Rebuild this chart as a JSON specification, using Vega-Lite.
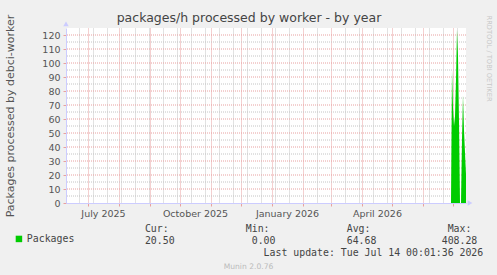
{
  "$schema": "https://vega.github.io/schema/vega-lite/v6.json",
  "width": 400,
  "height": 175,
  "autosize": {"type": "none"},
  "padding": {"left": 66, "top": 28, "right": 31, "bottom": 72},
  "background": "#f0f0f0",
  "config": {"view": {"fill": "#ffffff", "stroke": null}, "font": "DejaVu Sans"},
  "title": {"text": "packages/h processed by worker - by year", "font": "DejaVu Sans", "fontSize": 12.5, "fontWeight": "normal", "color": "#444444", "anchor": "middle", "frame": "group", "dx": -17, "offset": 0, "dy": 10},
  "layer": [
    {
      "data": {"values": [
        {"level": 5}, {"level": 10}, {"level": 15}, {"level": 20}, {"level": 25}, {"level": 30},
        {"level": 35}, {"level": 40}, {"level": 45}, {"level": 50}, {"level": 55}, {"level": 60},
        {"level": 65}, {"level": 70}, {"level": 75}, {"level": 80}, {"level": 85}, {"level": 90},
        {"level": 95}, {"level": 100}, {"level": 105}, {"level": 110}, {"level": 115}, {"level": 120}
      ]},
      "mark": {"type": "rule", "strokeDash": [1, 1], "strokeWidth": 1},
      "encoding": {
        "y": {"field": "level", "type": "quantitative", "axis": null},
        "color": {"condition": {"test": "datum.level % 10 === 0", "value": "#e8a0a0"}, "value": "#c4c4c4"}
      }
    },
    {
      "data": {"values": [
        {"date": "2026-06-29", "packages": 0},
        {"date": "2026-06-30", "packages": 95},
        {"date": "2026-07-01", "packages": 68},
        {"date": "2026-07-02", "packages": 55},
        {"date": "2026-07-03", "packages": 62},
        {"date": "2026-07-04", "packages": 88},
        {"date": "2026-07-05", "packages": 124},
        {"date": "2026-07-06", "packages": 105},
        {"date": "2026-07-07", "packages": 58},
        {"date": "2026-07-08", "packages": 0},
        {"date": "2026-07-09", "packages": 0},
        {"date": "2026-07-10", "packages": 46},
        {"date": "2026-07-11", "packages": 77},
        {"date": "2026-07-12", "packages": 52},
        {"date": "2026-07-13", "packages": 36},
        {"date": "2026-07-14", "packages": 20.5}
      ]},
      "mark": {"type": "area", "clip": true, "interpolate": "linear"},
      "encoding": {
        "x": {
          "field": "date", "type": "temporal",
          "scale": {"type": "utc", "domain": [{"year": 2025, "month": 6, "date": 9, "utc": true}, {"year": 2026, "month": 7, "date": 14, "utc": true}]},
          "axis": {
            "orient": "bottom",
            "values": [
              {"year": 2025, "month": 7, "date": 1, "utc": true},
              {"year": 2025, "month": 8, "date": 1, "utc": true},
              {"year": 2025, "month": 9, "date": 1, "utc": true},
              {"year": 2025, "month": 10, "date": 1, "utc": true},
              {"year": 2025, "month": 11, "date": 1, "utc": true},
              {"year": 2025, "month": 12, "date": 1, "utc": true},
              {"year": 2026, "month": 1, "date": 1, "utc": true},
              {"year": 2026, "month": 2, "date": 1, "utc": true},
              {"year": 2026, "month": 3, "date": 1, "utc": true},
              {"year": 2026, "month": 4, "date": 1, "utc": true},
              {"year": 2026, "month": 5, "date": 1, "utc": true},
              {"year": 2026, "month": 6, "date": 1, "utc": true},
              {"year": 2026, "month": 7, "date": 1, "utc": true},
              {"year": 2025, "month": 7, "date": 16, "utc": true},
              {"year": 2025, "month": 10, "date": 16, "utc": true},
              {"year": 2026, "month": 1, "date": 16, "utc": true},
              {"year": 2026, "month": 4, "date": 16, "utc": true},
              {"year": 2025, "month": 6, "date": 22, "utc": true},
              {"year": 2025, "month": 7, "date": 6, "utc": true},
              {"year": 2025, "month": 7, "date": 20, "utc": true},
              {"year": 2025, "month": 8, "date": 3, "utc": true},
              {"year": 2025, "month": 8, "date": 17, "utc": true},
              {"year": 2025, "month": 8, "date": 31, "utc": true},
              {"year": 2025, "month": 9, "date": 14, "utc": true},
              {"year": 2025, "month": 9, "date": 28, "utc": true},
              {"year": 2025, "month": 10, "date": 12, "utc": true},
              {"year": 2025, "month": 10, "date": 26, "utc": true},
              {"year": 2025, "month": 11, "date": 9, "utc": true},
              {"year": 2025, "month": 11, "date": 23, "utc": true},
              {"year": 2025, "month": 12, "date": 7, "utc": true},
              {"year": 2025, "month": 12, "date": 21, "utc": true},
              {"year": 2026, "month": 1, "date": 4, "utc": true},
              {"year": 2026, "month": 1, "date": 18, "utc": true},
              {"year": 2026, "month": 2, "date": 15, "utc": true},
              {"year": 2026, "month": 3, "date": 15, "utc": true},
              {"year": 2026, "month": 3, "date": 29, "utc": true},
              {"year": 2026, "month": 4, "date": 12, "utc": true},
              {"year": 2026, "month": 4, "date": 26, "utc": true},
              {"year": 2026, "month": 5, "date": 10, "utc": true},
              {"year": 2026, "month": 5, "date": 24, "utc": true},
              {"year": 2026, "month": 6, "date": 7, "utc": true},
              {"year": 2026, "month": 6, "date": 21, "utc": true},
              {"year": 2026, "month": 7, "date": 5, "utc": true}
            ],
            "labelExpr": "utcdate(datum.value) === 16 ? utcFormat(datum.value, '%B %Y') : ''",
            "labelOverlap": false,
            "labelBound": false,
            "labelFlush": false,
            "labelFont": "DejaVu Sans",
            "labelFontSize": 9.5,
            "labelColor": "#555555",
            "labelPadding": 2,
            "grid": true,
            "gridColor": {"condition": {"test": "utcdate(datum.value) === 1", "value": "#e8a0a0"}, "value": "#c4c4c4"},
            "gridOpacity": {"condition": {"test": "utcdate(datum.value) === 16", "value": 0}, "value": 1},
            "gridDash": [1, 1],
            "ticks": true,
            "tickSize": 3,
            "tickColor": "#e8a0a0",
            "tickOpacity": {"condition": {"test": "utcdate(datum.value) === 1", "value": 1}, "value": 0},
            "domainColor": "#ccccff",
            "title": [
              "Cur:\u00a0\u00a0\u00a0\u00a0\u00a0\u00a0\u00a0\u00a0\u00a0\u00a0\u00a0\u00a0\u00a0Min:\u00a0\u00a0\u00a0\u00a0\u00a0\u00a0\u00a0\u00a0\u00a0\u00a0\u00a0\u00a0\u00a0Avg:\u00a0\u00a0\u00a0\u00a0\u00a0\u00a0\u00a0\u00a0\u00a0\u00a0\u00a0\u00a0\u00a0Max:",
              "20.50\u00a0\u00a0\u00a0\u00a0\u00a0\u00a0\u00a0\u00a0\u00a0\u00a0\u00a0\u00a0\u00a00.00\u00a0\u00a0\u00a0\u00a0\u00a0\u00a0\u00a0\u00a0\u00a0\u00a0\u00a0\u00a064.68\u00a0\u00a0\u00a0\u00a0\u00a0\u00a0\u00a0\u00a0\u00a0\u00a0\u00a0408.28",
              "\u200b\u00a0\u00a0\u00a0\u00a0\u00a0\u00a0\u00a0\u00a0\u00a0\u00a0\u00a0\u00a0\u00a0\u00a0\u00a0\u00a0\u00a0\u00a0\u00a0\u00a0Last update: Tue Jul 14 00:01:36 2026"
            ],
            "titleFont": "DejaVu Sans Mono",
            "titleFontSize": 9.87,
            "titleFontWeight": "normal",
            "titleColor": "#444444",
            "titleAlign": "left",
            "titleBaseline": "alphabetic",
            "titleX": 78.4,
            "titleY": 28,
            "titleLineHeight": 12
          }
        },
        "y": {
          "field": "packages", "type": "quantitative",
          "scale": {"domain": [0, 125], "nice": false, "zero": true},
          "axis": {
            "orient": "left",
            "values": [0, 10, 20, 30, 40, 50, 60, 70, 80, 90, 100, 110, 120],
            "labelFont": "DejaVu Sans",
            "labelFontSize": 9.5,
            "labelColor": "#555555",
            "labelPadding": 3,
            "grid": false,
            "tickSize": 3,
            "tickColor": "#e8a0a0",
            "domainColor": "#ccccff",
            "title": "Packages processed by debci-worker",
            "titleFont": "DejaVu Sans",
            "titleFontSize": 11,
            "titleFontWeight": "normal",
            "titleColor": "#555555",
            "titlePadding": 26
          }
        },
        "color": {
          "datum": "Packages", "type": "nominal",
          "scale": {"range": ["#00cc00"]},
          "legend": {
            "orient": "none", "legendX": -52, "legendY": 206, "title": null,
            "symbolType": "square", "symbolSize": 42, "symbolStrokeWidth": 0, "symbolOpacity": 1,
            "labelFont": "DejaVu Sans Mono", "labelFontSize": 9.87, "labelColor": "#444444", "labelOffset": 3,
            "padding": 0
          }
        }
      }
    },
    {
      "data": {"values": [{}]},
      "mark": {"type": "point", "shape": "triangle-up", "filled": true, "color": "#ccccff", "opacity": 1, "size": 30, "clip": false},
      "encoding": {
        "x": {
          "datum": {"year": 2025, "month": 6, "date": 9, "utc": true}, "type": "temporal",
          "axis": {"orient": "bottom", "labels": false, "ticks": false, "domain": false, "grid": false,
            "title": "Munin 2.0.76", "titleFont": "DejaVu Sans", "titleFontSize": 7.6, "titleFontWeight": "normal", "titleColor": "#bbbbbb",
            "titleAlign": "center", "titleBaseline": "alphabetic", "titleX": 182, "titleY": 65}
        },
        "y": {"datum": 127.9, "type": "quantitative", "axis": null}
      }
    },
    {
      "data": {"values": [{}]},
      "mark": {"type": "point", "shape": "triangle-right", "filled": true, "color": "#ccccff", "opacity": 1, "size": 30, "clip": false},
      "encoding": {
        "x": {
          "datum": {"year": 2026, "month": 7, "date": 18, "utc": true}, "type": "temporal",
          "axis": {"orient": "top", "labels": false, "ticks": false, "domain": false, "grid": false,
            "title": "RRDTOOL / TOBI OETIKER", "titleFont": "DejaVu Sans", "titleFontSize": 6.7, "titleFontWeight": "normal", "titleColor": "#c8c8c8",
            "titleAngle": 90, "titleAlign": "left", "titleBaseline": "middle", "titleX": 422, "titleY": -13}
        },
        "y": {"datum": 0, "type": "quantitative", "axis": null}
      }
    }
  ],
  "resolve": {"axis": {"x": "independent", "y": "independent"}}
}
